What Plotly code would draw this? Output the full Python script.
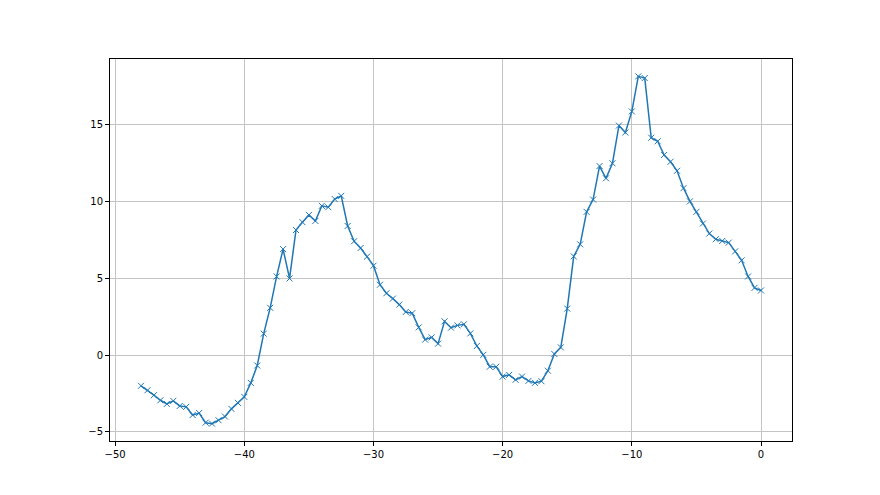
import numpy as np
import plotly.graph_objects as go

x_values = [
    -48.0, -47.5, -47.0, -46.5, -46.0, -45.5, -45.0, -44.5, -44.0, -43.5,
    -43.0, -42.5, -42.0, -41.5, -41.0, -40.5, -40.0, -39.5, -39.0, -38.5,
    -38.0, -37.5, -37.0, -36.5, -36.0, -35.5, -35.0, -34.5, -34.0, -33.5,
    -33.0, -32.5, -32.0, -31.5, -31.0, -30.5, -30.0, -29.5, -29.0, -28.5,
    -28.0, -27.5, -27.0, -26.5, -26.0, -25.5, -25.0, -24.5, -24.0, -23.5,
    -23.0, -22.5, -22.0, -21.5, -21.0, -20.5, -20.0, -19.5, -19.0, -18.5,
    -18.0, -17.5, -17.0, -16.5, -16.0, -15.5, -15.0, -14.5, -14.0, -13.5,
    -13.0, -12.5, -12.0, -11.5, -11.0, -10.5, -10.0, -9.5, -9.0, -8.5,
    -8.0, -7.5, -7.0, -6.5, -6.0, -5.5, -5.0, -4.5, -4.0, -3.5,
    -3.0, -2.5, -2.0, -1.5, -1.0, -0.5, 0.0,
]

y_values = [
    -2.00, -2.29, -2.61, -2.94, -3.18, -2.98, -3.31, -3.37, -3.90, -3.77,
    -4.40, -4.46, -4.24, -4.00, -3.50, -3.11, -2.72, -1.81, -0.68, 1.39,
    3.07, 5.11, 6.89, 4.98, 8.13, 8.64, 9.11, 8.72, 9.70, 9.61,
    10.14, 10.35, 8.39, 7.40, 6.96, 6.40, 5.81, 4.57, 4.02, 3.67,
    3.28, 2.80, 2.72, 1.80, 1.00, 1.15, 0.74, 2.19, 1.78, 1.93,
    2.00, 1.41, 0.59, 0.01, -0.76, -0.76, -1.40, -1.29, -1.61, -1.40,
    -1.68, -1.81, -1.70, -1.02, 0.07, 0.50, 3.02, 6.42, 7.20, 9.31,
    10.11, 12.29, 11.49, 12.47, 14.92, 14.47, 15.84, 18.12, 18.01, 14.13,
    13.90, 13.01, 12.57, 11.98, 10.85, 9.99, 9.31, 8.55, 7.90, 7.53,
    7.42, 7.31, 6.74, 6.16, 5.11, 4.37, 4.20,
]

x_ticks = [-50, -40, -30, -20, -10, 0]
y_ticks = [-5, 0, 5, 10, 15]

color = "#1f77b4"

fig = go.Figure()
fig.add_trace(go.Scatter(
    x=x_values, y=y_values, mode="lines+markers",
    line=dict(color=color, width=1.5),
    marker=dict(symbol="x-thin", size=6, line=dict(width=1, color=color), color=color),
    showlegend=False,
))

xspan = max(x_values) - min(x_values)
yspan = max(y_values) - min(y_values)

axis_common = dict(
    showline=True, mirror=True, linecolor="#000000", linewidth=1,
    ticks="outside", ticklen=4, tickwidth=1, tickcolor="#000000",
    showgrid=True, gridcolor="#c4c4c4", gridwidth=1,
    zeroline=False,
    tickfont=dict(family="DejaVu Sans", size=10, color="#000000"),
)

fig.update_xaxes(
    range=[min(x_values) - 0.05 * xspan, max(x_values) + 0.05 * xspan],
    tickvals=x_ticks, ticktext=[str(v).replace("-", "\u2212") for v in x_ticks],
    **axis_common,
)
fig.update_yaxes(
    range=[min(y_values) - 0.05 * yspan, max(y_values) + 0.05 * yspan],
    tickvals=y_ticks, ticktext=[str(v).replace("-", "\u2212") for v in y_ticks],
    **axis_common,
)

fig.update_layout(
    width=872, height=487,
    margin=dict(l=102, r=88, t=51, b=54),
    paper_bgcolor="#ffffff", plot_bgcolor="#ffffff",
    font=dict(family="DejaVu Sans", size=10, color="#000000"),
)

fig.write_html("out.html")
